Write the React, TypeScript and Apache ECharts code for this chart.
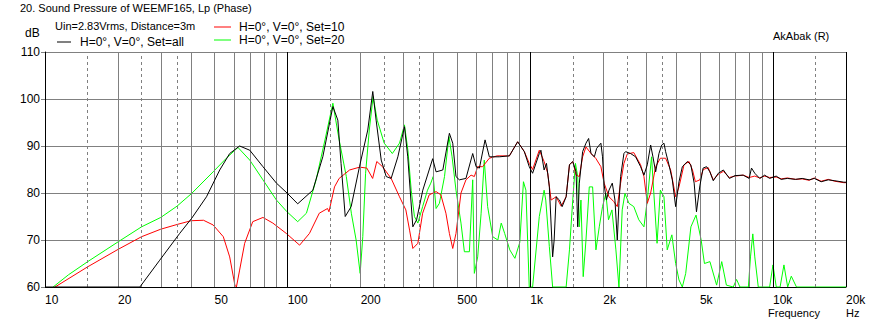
import React, { useEffect, useRef } from "react";
import * as echarts from "echarts";

const NAME_ALL = "H=0°, V=0°, Set=all";
const NAME_10 = "H=0°, V=0°, Set=10";
const NAME_20 = "H=0°, V=0°, Set=20";

const xLabelValues = [10, 20, 50, 100, 200, 500, 1000, 2000, 5000, 10000, 20000];
const gridDashed = [15, 25, 35, 150, 250, 350, 1500, 2500, 3500, 15000];
const gridSolid = [20, 30, 40, 50, 60, 70, 80, 90, 200, 300, 400, 500, 600, 700, 800, 900, 2000, 3000, 4000, 5000, 6000, 7000, 8000, 9000];
const gridBlack = [100, 1000, 10000, 20000];

const allFreq = [10, 24.6, 29.7, 35.9, 40.2, 46.3, 52.5, 57.7, 63.4, 69.8, 79.1, 89.9, 99.4, 110, 127, 139.6, 153.6, 161, 166, 172.7, 182.7, 197.7, 213.9, 224.3, 231.5, 243, 254.8, 267, 284.6, 303, 312.6, 328, 340, 360.5, 396, 409, 436, 464, 479, 494, 510, 543, 579, 598, 617, 651, 678, 745, 820, 887, 945, 990, 1022, 1089, 1106, 1140, 1166, 1198, 1236, 1254, 1278, 1319, 1353, 1405, 1450, 1496, 1544, 1568, 1592, 1643, 1696, 1739, 1779, 1836, 1877, 1954, 1984, 2015, 2059, 2110, 2177, 2233, 2283, 2319, 2356, 2431, 2470, 2590, 2716, 2848, 2940, 3035, 3133, 3202, 3285, 3390, 3479, 3555, 3611, 3728, 3848, 3972, 4100, 4232, 4440, 4587, 4735, 4840, 4997, 5153, 5326, 5498, 5676, 5953, 6247, 6615, 6976, 7538, 7978, 8159, 8417, 8822, 9245, 9690, 10310, 10810, 11460, 12400, 13200, 14100, 14800, 15800, 16900, 18000, 19600, 20000];
const allDb = [60, 60, 65.7, 71.4, 74.6, 79.2, 84.9, 88.4, 90.0, 89.1, 85.6, 82.1, 80.0, 77.7, 80.6, 87.7, 98.4, 95.5, 86.3, 75.0, 77.1, 85.6, 93.4, 101.6, 95.5, 87.0, 83.5, 83.1, 87.7, 94.1, 87.7, 72.8, 74.3, 80.6, 87.3, 84.5, 84.9, 92.7, 90.6, 83.5, 82.8, 83.1, 88.4, 85.6, 85.3, 91.3, 87.7, 87.7, 87.9, 90.9, 88.8, 85.6, 84.2, 88.4, 89.1, 84.9, 86.3, 81.3, 66.4, 70.0, 79.2, 78.5, 77.1, 79.2, 86.0, 86.7, 84.5, 72.8, 82.1, 88.8, 90.6, 91.6, 88.4, 87.7, 89.5, 90.6, 87.7, 81.7, 78.5, 80.6, 82.1, 78.5, 70.0, 77.8, 83.5, 88.4, 88.8, 88.4, 87.7, 85.6, 83.8, 86.0, 90.2, 87.7, 84.5, 88.4, 90.2, 90.6, 88.8, 86.0, 82.8, 77.1, 82.4, 85.6, 86.7, 86.0, 82.1, 76.0, 81.5, 85.3, 85.6, 84.5, 82.6, 84.2, 84.9, 83.1, 83.7, 83.8, 83.1, 85.3, 84.2, 83.1, 83.8, 83.1, 83.6, 82.9, 83.1, 82.9, 83.1, 82.8, 83.1, 82.4, 82.8, 82.6, 82.3, 82.3];

const set10Freq = [11.0, 15, 20, 25, 30, 35, 40, 45, 49.3, 54.3, 57.7, 60.6, 61.5, 63.4, 66.5, 71.8, 79.1, 86.9, 98.7, 112, 123, 135, 146, 148, 156, 163, 180, 198, 212, 224, 233, 246, 267, 289, 307, 318, 328, 344, 360, 383, 409, 428, 449, 464, 479, 494, 518, 543, 570, 588, 607, 636, 678, 730, 820, 887, 945, 990, 1022, 1089, 1140, 1180, 1218, 1278, 1340, 1405, 1450, 1496, 1544, 1592, 1643, 1696, 1779, 1860, 1954, 2015, 2110, 2205, 2283, 2356, 2431, 2510, 2670, 2848, 2940, 3035, 3133, 3285, 3435, 3611, 3788, 3972, 4100, 4300, 4510, 4660, 4790, 4997, 5160, 5410, 5676, 5953, 6247, 6615, 6976, 7538, 7978, 8417, 8822, 9245, 9690, 10310, 10810, 11460, 12400, 13200, 14100, 14800, 15800, 16900, 18000, 19600, 20000];
const set10Db = [60, 64.3, 68.0, 70.7, 72.3, 73.3, 74.1, 74.2, 73.2, 70.7, 66.4, 60.4, 60, 63.6, 69.3, 73.9, 74.8, 73.6, 71.4, 68.9, 71.4, 75.7, 76.7, 76.0, 81.3, 83.1, 84.9, 85.5, 85.3, 83.1, 86.7, 85.6, 83.1, 79.2, 76.4, 72.1, 68.2, 69.3, 75.7, 79.6, 80.3, 79.6, 75.7, 71.4, 68.2, 71.4, 80.0, 82.8, 83.8, 83.5, 85.6, 85.6, 87.4, 87.9, 87.9, 90.9, 88.8, 86.3, 85.0, 89.1, 86.7, 84.2, 78.5, 79.2, 77.2, 79.2, 86.0, 86.7, 83.8, 83.5, 87.7, 89.8, 88.4, 87.4, 85.6, 82.1, 79.2, 78.2, 77.1, 82.1, 86.3, 88.3, 88.6, 86.0, 83.5, 77.8, 80.0, 85.6, 87.4, 87.4, 84.9, 79.2, 81.3, 86.0, 86.7, 84.9, 82.4, 82.8, 85.0, 85.4, 82.8, 84.0, 84.6, 83.3, 83.6, 83.8, 83.3, 83.6, 83.2, 83.6, 83.3, 83.4, 83.0, 83.2, 82.9, 83.0, 82.7, 83.2, 82.5, 82.9, 82.5, 82.2, 82.2];

const set20Freq = [10.8, 12.5, 15, 20, 25, 30, 35, 40.2, 49.3, 55.9, 62.4, 69.8, 79.1, 89.9, 99.4, 110, 119.5, 131, 142.5, 153.6, 163, 174.5, 183, 191.5, 199, 204, 209.5, 217, 225, 234, 250, 270, 289, 303, 313, 323, 333, 344, 360, 377, 389, 398, 409, 422, 443, 462, 476, 494, 518, 535, 561, 579, 588, 607, 627, 646, 667, 700, 735, 759, 784, 823, 864, 905, 937, 959, 990, 1022, 1089, 1140, 1158, 1198, 1236, 1405, 1450, 1496, 1535, 1568, 1592, 1617, 1652, 1696, 1750, 1806, 1864, 1924, 1984, 2048, 2100, 2170, 2253, 2319, 2392, 2455, 2550, 2670, 2800, 2940, 3035, 3160, 3230, 3330, 3435, 3555, 3667, 3832, 3972, 4100, 4232, 4370, 4590, 4820, 5060, 5220, 5498, 5859, 6150, 6428, 6860, 7080, 7310, 7920, 8080, 8260, 8417, 8700, 9690, 10000, 10320, 10700, 11100, 11500, 11900, 12500, 20000];
const set20Db = [60, 62.6, 65.4, 69.6, 72.8, 74.8, 77.2, 79.9, 84.5, 87.4, 89.7, 87.0, 82.8, 78.5, 76.0, 73.9, 75.7, 82.8, 91.3, 99.1, 91.3, 83.5, 75.7, 70.0, 62.9, 70.7, 84.2, 93.4, 100.5, 95.5, 90.6, 88.4, 90.6, 94.5, 89.1, 80.6, 75.0, 73.6, 77.1, 80.6, 82.1, 83.5, 76.7, 77.8, 83.5, 92.0, 87.7, 80.6, 73.6, 67.5, 67.5, 82.8, 62.9, 66.4, 75.7, 87.0, 77.1, 70.7, 70.0, 73.6, 71.4, 67.9, 66.1, 69.5, 82.4, 80.6, 60, 60, 75.0, 80.6, 78.5, 68.6, 60, 60, 67.9, 78.5, 86.3, 83.5, 72.8, 78.5, 62.2, 70.0, 81.3, 81.3, 67.9, 72.8, 77.1, 79.9, 74.3, 76.4, 67.9, 60, 76.4, 79.9, 77.8, 77.1, 74.3, 72.8, 78.5, 87.7, 79.9, 69.3, 80.6, 79.2, 67.9, 71.1, 65.0, 61.5, 60, 62.9, 72.8, 75.3, 70.0, 65.0, 65.4, 60.4, 65.4, 60.4, 60, 61.6, 60, 60, 66.4, 71.3, 66.4, 60, 60, 64.7, 60, 60, 64.7, 60, 62.3, 60, 60];

const FONT = "Liberation Sans";
const zip = (f: number[], d: number[]) => f.map((v, i) => [v, d[i]]);
const fmtHz = (v: number) => (v >= 1000 ? `${Math.round(v / 1000)}k` : `${Math.round(v)}`);

export default function App() {
  const ref = useRef<HTMLDivElement>(null);
  useEffect(() => {
    if (!ref.current) return;
    const chart = echarts.init(ref.current, null, { renderer: "svg" });
    const gray = "#808080";
    const markData = [
      ...gridDashed.map((v) => ({ xAxis: v, lineStyle: { color: gray, type: [3, 3], width: 1 } })),
      ...gridSolid.map((v) => ({ xAxis: v, lineStyle: { color: gray, type: "solid", width: 1 } })),
      ...gridBlack.map((v) => ({ xAxis: v, lineStyle: { color: "#000", type: "solid", width: 1 } })),
    ];
    const lineSeries = (name: string, color: string, data: number[][], z: number) => ({
      name,
      type: "line",
      data,
      symbol: "none",
      showSymbol: false,
      smooth: false,
      z,
      lineStyle: { color, width: 1 },
      itemStyle: { color },
      silent: true,
    });
    chart.setOption({
      animation: false,
      backgroundColor: "#ffffff",
      textStyle: { fontFamily: FONT, fontSize: 12, color: "#000" },
      grid: { left: 45, right: 26, top: 52, bottom: 39, containLabel: false },
      title: {
        text: "20. Sound Pressure of WEEMF165, Lp (Phase)",
        left: 20,
        top: 2,
        padding: 0,
        textStyle: { fontFamily: FONT, fontSize: 11, fontWeight: "normal", color: "#000" },
      },
      legend: [
        {
          data: [NAME_ALL],
          left: 57,
          top: 36,
          padding: 0,
          icon: "rect",
          itemWidth: 14,
          itemHeight: 1,
          textStyle: { fontFamily: FONT, fontSize: 12, color: "#000", padding: [0, 0, 0, 4] },
        },
        {
          data: [NAME_10, NAME_20],
          orient: "vertical",
          left: 214,
          top: 21,
          padding: 0,
          itemGap: 1,
          icon: "rect",
          itemWidth: 17,
          itemHeight: 1,
          textStyle: { fontFamily: FONT, fontSize: 12, color: "#000", padding: [0, 0, 0, 3], lineHeight: 12 },
        },
      ],
      xAxis: {
        type: "log",
        logBase: 10,
        min: 10,
        max: 20000,
        axisLine: { show: true, lineStyle: { color: "#000", width: 1 } },
        axisTick: { show: false },
        splitLine: { show: false },
        minorSplitLine: { show: false },
        axisLabel: {
          customValues: xLabelValues,
          formatter: (v: number) => fmtHz(v),
          align: "left",
          margin: 7,
          color: "#000",
          fontFamily: FONT,
          fontSize: 12,
          showMaxLabel: true,
          showMinLabel: true,
        },
      },
      yAxis: {
        type: "value",
        min: 60,
        max: 110,
        interval: 10,
        axisLine: { show: true, lineStyle: { color: "#000", width: 1 } },
        axisTick: { show: true, length: 4, lineStyle: { color: gray } },
        splitLine: { show: true, lineStyle: { color: gray, width: 1 } },
        axisLabel: {
          margin: 5,
          color: "#000",
          fontFamily: FONT,
          fontSize: 12,
          padding: [0, 0, 12, 0],
        },
      },
      graphic: [
        { type: "text", left: 55, top: 20, style: { text: "Uin=2.83Vrms, Distance=3m", font: `11px '${FONT}'`, fill: "#000" } },
        { type: "text", left: 25, top: 27, style: { text: "dB", font: `12px '${FONT}'`, fill: "#000" } },
        { type: "text", left: 773, top: 30, style: { text: "AkAbak (R)", font: `11px '${FONT}'`, fill: "#000" } },
        { type: "text", left: 768, top: 307, style: { text: "Frequency", font: `11px '${FONT}'`, fill: "#000" } },
        { type: "text", left: 846, top: 307, style: { text: "Hz", font: `11px '${FONT}'`, fill: "#000" } },
      ],
      series: [
        {
          type: "line",
          data: [],
          silent: true,
          z: 1,
          markLine: { silent: true, symbol: ["none", "none"], label: { show: false }, data: markData, animation: false },
        },
        lineSeries(NAME_20, "#00ff00", zip(set20Freq, set20Db), 3),
        lineSeries(NAME_10, "#ff0000", zip(set10Freq, set10Db), 4),
        lineSeries(NAME_ALL, "#000000", zip(allFreq, allDb), 5),
      ],
    });
    return () => chart.dispose();
  }, []);
  return <div ref={ref} style={{ position: "fixed", left: 0, top: 0, width: 872, height: 326 }} />;
}
